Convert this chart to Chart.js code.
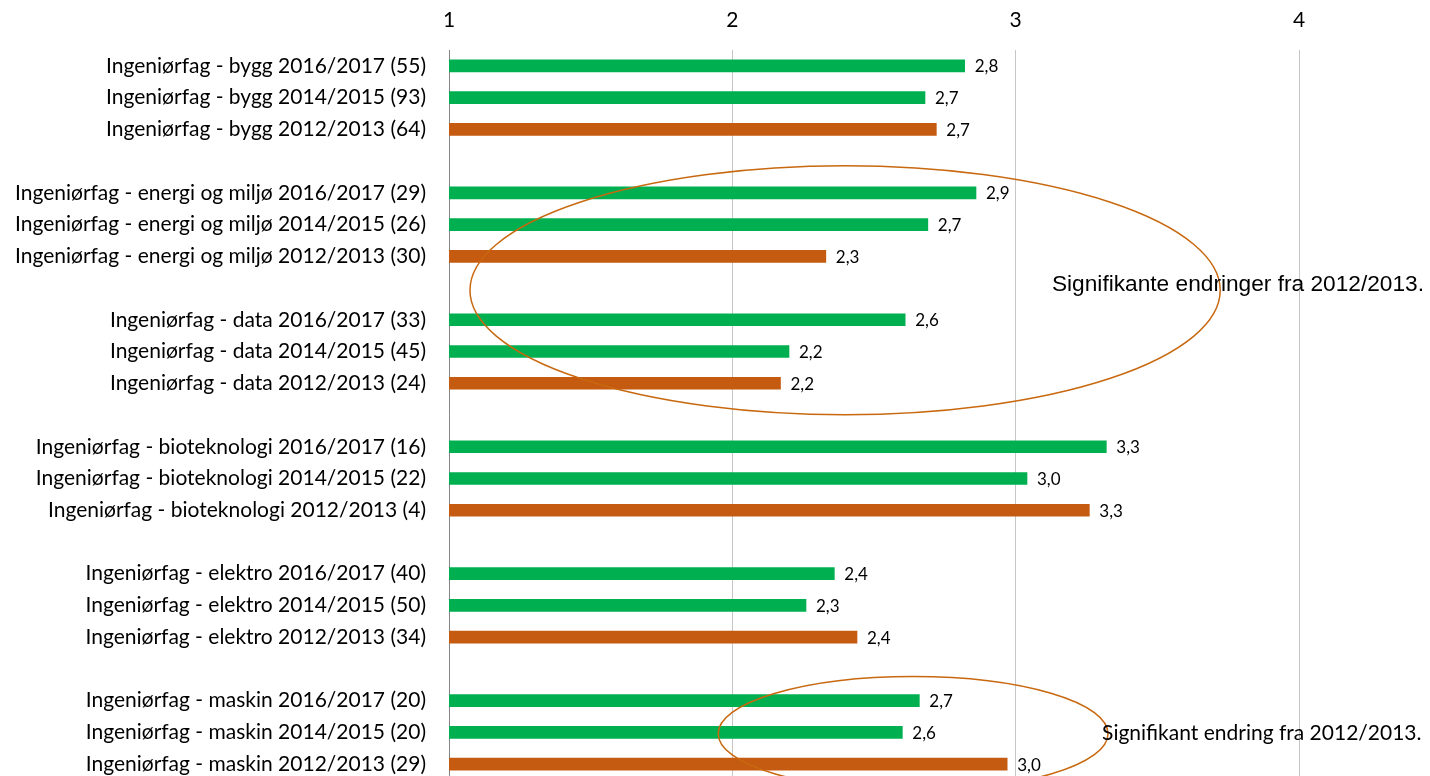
<!DOCTYPE html>
<html>
<head>
<meta charset="utf-8">
<script src="https://cdn.jsdelivr.net/npm/chart.js@4.4.1/dist/chart.umd.min.js"></script>
<style>
  html, body { margin: 0; padding: 0; background: #fff; overflow: hidden; }
  #chart { width: 1430px; height: 780px; position: relative; }
</style>
</head>
<body>
<div id="chart"><canvas id="c"></canvas></div>
<script>
// categories, "" = empty spacer row between the groups
const categories = [
  "Ingeniørfag - bygg 2016/2017 (55)",
  "Ingeniørfag - bygg 2014/2015 (93)",
  "Ingeniørfag - bygg 2012/2013 (64)",
  "",
  "Ingeniørfag - energi og miljø 2016/2017 (29)",
  "Ingeniørfag - energi og miljø 2014/2015 (26)",
  "Ingeniørfag - energi og miljø 2012/2013 (30)",
  "",
  "Ingeniørfag - data 2016/2017 (33)",
  "Ingeniørfag - data 2014/2015 (45)",
  "Ingeniørfag - data 2012/2013 (24)",
  "",
  "Ingeniørfag - bioteknologi 2016/2017 (16)",
  "Ingeniørfag - bioteknologi 2014/2015 (22)",
  "Ingeniørfag - bioteknologi 2012/2013 (4)",
  "",
  "Ingeniørfag - elektro 2016/2017 (40)",
  "Ingeniørfag - elektro 2014/2015 (50)",
  "Ingeniørfag - elektro 2012/2013 (34)",
  "",
  "Ingeniørfag - maskin 2016/2017 (20)",
  "Ingeniørfag - maskin 2014/2015 (20)",
  "Ingeniørfag - maskin 2012/2013 (29)"
];

const values = [
  2.82, 2.68, 2.72, null,
  2.86, 2.69, 2.33, null,
  2.61, 2.20, 2.17, null,
  3.32, 3.04, 3.26, null,
  2.36, 2.26, 2.44, null,
  2.66, 2.60, 2.97
];

const xTicks = [1, 2, 3, 4];

// notes: centre (value, row index), radii (value units, rows)
const noteTexts = [
  "Signifikante endringer fra 2012/2013.",
  "Signifikant endring fra 2012/2013."
];
const noteEllipses = [
  [2.398, 7.07, 1.324, 3.92],
  [2.638, 21.04, 0.688, 1.8]
];
const noteTextPos = [
  [3.128, 6.9],
  [3.305, 21.04]
];

const GREEN = "#00b050";
const ORANGE = "#c55a11";
const barColors = categories.map(c => c.includes("2012/2013") ? ORANGE : GREEN);

const valueLabels = {
  id: "valueLabels",
  afterDatasetsDraw(chart) {
    const ctx = chart.ctx;
    const meta = chart.getDatasetMeta(0);
    ctx.save();
    ctx.font = "17px Lato";
    ctx.fillStyle = "#000";
    ctx.textAlign = "left";
    ctx.textBaseline = "middle";
    meta.data.forEach((bar, i) => {
      if (values[i] == null) return;
      ctx.fillText(values[i].toFixed(1).replace(".", ","), bar.x + 10, bar.y + 1);
    });
    ctx.restore();
  }
};

const notes = {
  id: "notes",
  afterDraw(chart) {
    const ctx = chart.ctx;
    const x = chart.scales.x, y = chart.scales.y;
    ctx.save();
    ctx.strokeStyle = "#c8680f";
    ctx.lineWidth = 1.5;
    noteEllipses.forEach(e => {
      const cx = x.getPixelForValue(e[0]);
      const cy = y.getPixelForValue(e[1]);
      const rx = x.getPixelForValue(e[0] + e[2]) - cx;
      const ry = y.getPixelForValue(e[1] + e[3]) - cy;
      ctx.beginPath();
      ctx.ellipse(cx, cy, rx, ry, 0, 0, Math.PI * 2);
      ctx.stroke();
    });
    ctx.fillStyle = "#000";
    ctx.textBaseline = "middle";
    ctx.textAlign = "left";
    ctx.font = "22.7px 'Liberation Sans'";
    ctx.fillText(noteTexts[0], x.getPixelForValue(noteTextPos[0][0]), y.getPixelForValue(noteTextPos[0][1]));
    ctx.font = "21px Lato";
    ctx.fillText(noteTexts[1], x.getPixelForValue(noteTextPos[1][0]), y.getPixelForValue(noteTextPos[1][1]));
    ctx.restore();
  }
};

new Chart(document.getElementById("c"), {
  type: "bar",
  data: {
    labels: categories,
    datasets: [{
      data: values,
      backgroundColor: barColors,
      barThickness: 12
    }]
  },
  options: {
    indexAxis: "y",
    responsive: true,
    maintainAspectRatio: false,
    animation: false,
    layout: { padding: { top: 0, right: 131, left: 0, bottom: 0 } },
    plugins: { legend: { display: false }, tooltip: { enabled: false } },
    scales: {
      x: {
        position: "top",
        min: 1,
        max: 4,
        afterBuildTicks(scale) { scale.ticks = xTicks.map(v => ({ value: v })); },
        ticks: { color: "#000", font: { family: "Lato", size: 21 }, padding: 17 },
        grid: { color: "#c6c6c6", drawTicks: false },
        border: { display: false },
        afterFit(scale) { scale.height = 50; scale.paddingLeft = 0; scale.paddingRight = 0; }
      },
      y: {
        ticks: { color: "#000", font: { family: "Lato", size: 21 }, padding: 23, autoSkip: false },
        grid: { display: false, drawTicks: false },
        border: { display: true, color: "#868686", width: 1 },
        afterFit(scale) { scale.width = 449; scale.paddingTop = 0; scale.paddingBottom = 0; }
      }
    }
  },
  plugins: [valueLabels, notes]
});
</script>
</body>
</html>
